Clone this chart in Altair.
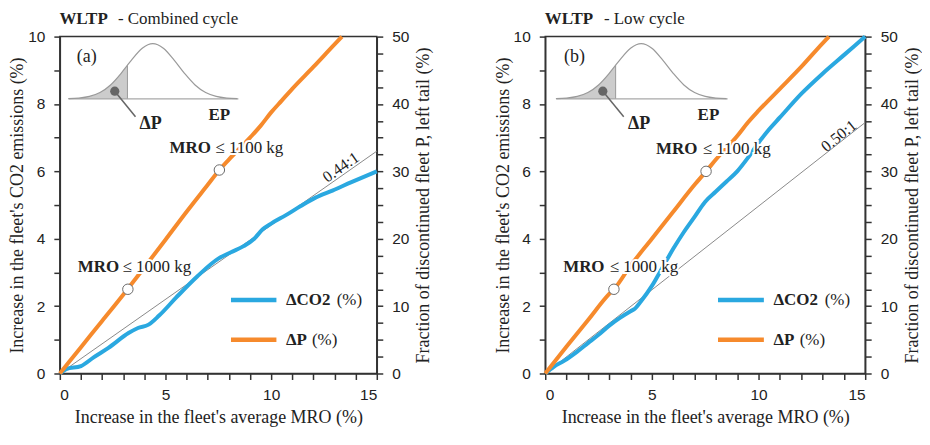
import altair as alt
import pandas as pd

# ---------------- data ----------------
# Panel (a) WLTP combined cycle
co2a_x = [0, 0.3, 1.0, 1.6, 2.3, 3.25, 3.7, 4.2, 4.7, 5.5, 6.5, 7.5, 8.1, 8.7, 9.2, 9.6, 10.0, 10.7, 11.4, 12.1, 12.9, 13.8, 15.0]
co2a_y = [0, 0.13, 0.22, 0.48, 0.76, 1.2, 1.35, 1.45, 1.72, 2.25, 2.88, 3.41, 3.6, 3.78, 4.0, 4.28, 4.45, 4.7, 4.97, 5.22, 5.43, 5.68, 6.0]
pa_x = [0, 1, 2, 3, 3.2, 4, 5, 6, 7, 7.55, 8, 9, 9.5, 10, 10.5, 11, 12, 13, 13.35]
pa_y = [0, 3.9, 7.8, 11.7, 12.5, 15.75, 19.85, 24.0, 28.0, 30.2, 31.75, 35.0, 36.75, 38.75, 40.5, 42.25, 45.5, 48.85, 50]
mark_a_x = [3.22, 7.55]
mark_a_p = [12.5, 30.2]
ratio_a = [0, 6.6]          # 0.44:1 reference line at x = 0 and 15

# Panel (b) WLTP low cycle
co2b_x = [0, 0.4, 0.9, 1.5, 2, 2.5, 3, 3.5, 4, 4.2, 4.5, 5, 5.5, 6, 6.5, 7, 7.5, 8, 8.5, 9, 9.5, 10, 10.5, 11, 12, 13, 14, 15]
co2b_y = [0, 0.2, 0.38, 0.65, 0.9, 1.15, 1.42, 1.65, 1.85, 1.92, 2.15, 2.6, 3.15, 3.7, 4.2, 4.65, 5.1, 5.4, 5.7, 6.0, 6.4, 6.85, 7.25, 7.6, 8.3, 8.9, 9.45, 10.0]
pb_x = [0, 1, 2, 3, 3.22, 4, 5, 6, 7, 7.54, 8, 9, 9.5, 10, 11, 12, 13, 13.3]
pb_y = [0, 4, 7.9, 11.8, 12.5, 16, 20, 24, 28, 30, 31.75, 35.25, 37.25, 39, 42.25, 45.5, 49, 50]
mark_b_x = [3.22, 7.54]
mark_b_p = [12.5, 30]
ratio_b = [0, 7.45]         # 0.50:1 reference line at x = 0 and 15
ratio_x = [0, 15]

# schematic bell curve of the inset (left-axis units)
inset_x = [0.4, 0.9, 1.4, 1.9, 2.4, 2.9, 3.2, 3.4, 3.9, 4.4, 4.9, 5.4, 5.9, 6.4, 6.9, 7.4, 7.9, 8.4]
inset_y = [8.157, 8.175, 8.225, 8.34, 8.565, 8.91, 9.15, 9.31, 9.655, 9.79, 9.655, 9.31, 8.91, 8.565, 8.34, 8.225, 8.175, 8.157]

# ---------------- styles ----------------
SERIF = "Liberation Serif"
SANS = "Liberation Sans"
BLUE = "#2AA8E0"
ORANGE = "#F68A2C"
INK = "#222222"
AX = "#333333"

xs = alt.Scale(domain=[0, 15], nice=False, zero=False)
ys = alt.Scale(domain=[0, 10], nice=False, zero=False)
ps = alt.Scale(domain=[0, 50], nice=False, zero=False)

common = dict(labelFont=SANS, labelFontSize=15.5, labelColor=INK, titleFont=SERIF, titleFontSize=18,
              titleFontWeight="normal", titleColor=INK, domainColor=AX, domainWidth=1.5,
              tickColor=AX, tickWidth=1.5, tickSize=6, ticks=True, domain=True, grid=False)

xaxis = alt.Axis(values=list(range(16)), labelExpr="datum.value % 5 == 0 ? datum.label : ''",
                 title="Increase in the fleet's average MRO (%)", labelPadding=8, titlePadding=6, **common)
yaxis = alt.Axis(values=list(range(11)), labelExpr="datum.value % 2 == 0 ? datum.label : ''",
                 title="Increase in the fleet's CO2 emissions (%)", labelPadding=9, titlePadding=1, **common)
raxis = alt.Axis(orient="right", values=[i * 2.5 for i in range(21)],
                 labelExpr="datum.value % 10 == 0 ? datum.label : ''",
                 title="Fraction of discontinued fleet P, left tail (%)", titleAngle=270,
                 titleBaseline="top", labelPadding=9, titlePadding=6, **common)


def X():
    return alt.X("x:Q", scale=xs, axis=xaxis)


def Y():
    return alt.Y("y:Q", scale=ys, axis=yaxis)


def Yn():
    return alt.Y("y:Q", scale=ys, axis=None)


def texts(rows, yenc, **kw):
    df = pd.DataFrame(rows, columns=["x", "y", "t"])
    return alt.Chart(df).mark_text(**kw).encode(x=X(), y=yenc(), text="t:N")


def panel(tag, cycle, cx, cy, px, py, mx, mp, ratio, rlabel, rlab_pos, rangle, dx, w, ann):
    # --- main group (left axis) ---
    ratio_line = alt.Chart(pd.DataFrame({"x": ratio_x, "y": ratio})).mark_line(
        color="#8a8a8a", strokeWidth=1).encode(x=X(), y=Y())

    curve = pd.DataFrame({"x": [v + dx for v in inset_x], "y": inset_y})
    tail = curve[curve["x"] <= 3.2 + dx + 0.001]
    shade = alt.Chart(tail).mark_area(color="#cccccc", opacity=1, interpolate="monotone").encode(
        x=X(), y=Y(), y2=alt.Y2(datum=8.15))
    edge = alt.Chart(pd.DataFrame({"x": [3.2 + dx, 3.2 + dx], "y": [8.15, 9.15]})).mark_line(
        color="#9a9a9a", strokeWidth=1).encode(x=X(), y=Y())
    base = alt.Chart(pd.DataFrame({"x": [0.42 + dx, 8.45 + dx], "y": [8.15, 8.15]})).mark_line(
        color="#a8a8a8", strokeWidth=1.2).encode(x=X(), y=Y())
    bell = alt.Chart(curve).mark_line(color="#9a9a9a", strokeWidth=1.2, interpolate="monotone").encode(
        x=X(), y=Y())
    leader = alt.Chart(pd.DataFrame({"x": [2.6 + dx, 3.58 + dx], "y": [8.38, 7.62]})).mark_line(
        color="#666666", strokeWidth=1.5).encode(x=X(), y=Y())
    dot = alt.Chart(pd.DataFrame({"x": [2.6 + dx], "y": [8.38]})).mark_circle(
        color="#666666", size=85, opacity=1).encode(x=X(), y=Y())
    inset_txt = [
        texts([[1.27 + dx, 9.38, tag]], Y, font=SERIF, fontSize=18, color=INK, align="center", baseline="middle"),
        texts([[4.3 + dx, 7.4, "ΔP"]], Y, font=SERIF, fontSize=18, fontWeight="bold", color=INK,
              align="center", baseline="middle"),
        texts([[7.55 + dx, 7.66, "EP"]], Y, font=SERIF, fontSize=17, fontWeight="bold", color=INK,
              align="center", baseline="middle"),
    ]

    co2 = alt.Chart(pd.DataFrame({"x": cx, "y": cy})).mark_line(
        color=BLUE, strokeWidth=4, interpolate="monotone").encode(x=X(), y=Y())

    leg_blue = alt.Chart(pd.DataFrame({"x": [8.1, 10.25], "y": [2.18, 2.18]})).mark_line(
        color=BLUE, strokeWidth=4.5).encode(x=X(), y=Y())
    leg_orange = alt.Chart(pd.DataFrame({"x": [8.1, 10.25], "y": [1.0, 1.0]})).mark_line(
        color=ORANGE, strokeWidth=4.5).encode(x=X(), y=Y())
    leg_txt = [
        texts([[10.7, 2.18, "ΔCO2"], [10.7, 1.0, "ΔP"]], Y, font=SERIF, fontSize=17, fontWeight="bold",
              color=INK, align="left", baseline="middle"),
        texts([[13.1, 2.18, "(%)"], [11.93, 1.0, "(%)"]], Y, font=SERIF, fontSize=17, color=INK,
              align="left", baseline="middle"),
    ]
    rlab = texts([[rlab_pos[0], rlab_pos[1], rlabel]], Y, font=SERIF, fontSize=16, color=INK,
                 align="center", baseline="middle", angle=rangle)

    main = alt.layer(ratio_line, shade, edge, base, bell, leader, dot, *inset_txt, co2,
                     leg_blue, leg_orange, *leg_txt, rlab)

    # --- right-axis group (fraction P) ---
    pline = alt.Chart(pd.DataFrame({"x": px, "p": py})).mark_line(
        color=ORANGE, strokeWidth=4, interpolate="monotone").encode(
        x=X(), y=alt.Y("p:Q", scale=ps, axis=raxis))
    pmark = alt.Chart(pd.DataFrame({"x": mx, "p": mp})).mark_point(
        filled=True, fill="white", stroke="#6a6a6a", strokeWidth=1, size=110, opacity=1).encode(
        x=X(), y=alt.Y("p:Q", scale=ps, axis=raxis))
    right = alt.layer(pline, pmark)

    # --- annotation group (drawn on top, no axis) ---
    bold_rows = [[ann[0][0], ann[0][2], "MRO"], [ann[1][0], ann[1][2], "MRO"]]
    norm_rows = [[ann[0][1], ann[0][2], "≤ 1000 kg"], [ann[1][1], ann[1][2], "≤ 1100 kg"]]
    halo_b = texts(bold_rows, Yn, font=SERIF, fontSize=17, fontWeight="bold", color="white",
                   stroke="white", strokeWidth=4, align="left", baseline="middle")
    halo_n = texts(norm_rows, Yn, font=SERIF, fontSize=17, color="white", stroke="white", strokeWidth=4,
                   align="left", baseline="middle")
    ann_b = texts(bold_rows, Yn, font=SERIF, fontSize=17, fontWeight="bold", color=INK,
                  align="left", baseline="middle")
    ann_n = texts(norm_rows, Yn, font=SERIF, fontSize=17, color=INK, align="left", baseline="middle")
    t1 = texts([[-0.02, 10.53, "WLTP"]], Yn, font=SERIF, fontSize=17, fontWeight="bold", color=INK,
               align="left", baseline="middle")
    t2 = texts([[2.75, 10.53, cycle]], Yn, font=SERIF, fontSize=17, color=INK, align="left", baseline="middle")
    top = alt.layer(halo_b, halo_n, ann_b, ann_n, t1, t2)

    return alt.layer(main, right, top).resolve_scale(y="independent").properties(width=w, height=338)


pa = panel("(a)", "- Combined cycle", co2a_x, co2a_y, pa_x, pa_y, mark_a_x, mark_a_p,
           ratio_a, "0.44:1", (13.3, 6.12), 325, 0.0, 318,
           [(0.85, 2.97, 3.17), (5.19, 7.36, 6.68)])
pb = panel("(b)", "- Low cycle", co2b_x, co2b_y, pb_x, pb_y, mark_b_x, mark_b_p,
           ratio_b, "0.50:1", (13.77, 7.05), 321.6, 0.1, 321,
           [(0.84, 3.02, 3.16), (5.19, 7.38, 6.66)])

chart = alt.hconcat(pa, pb, spacing=60).properties(
    padding={"left": 0, "top": 0, "right": 0, "bottom": 0}
).configure_view(stroke=AX, strokeWidth=1.5)

chart.save("out.html", embed_options={"renderer": "svg", "actions": False})
